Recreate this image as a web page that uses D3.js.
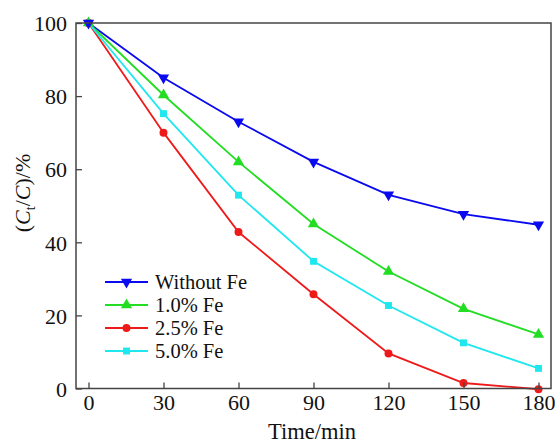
<!DOCTYPE html>
<html>
<head>
<meta charset="utf-8">
<script src="https://cdn.jsdelivr.net/npm/d3@7"></script>
<style>
  body { margin: 0; background: #fff; }
  svg, svg text { font-family: "Liberation Serif", "Times New Roman", "DejaVu Serif", serif !important; }
</style>
</head>
<body>
<div id="chart"></div>
<script>
let width = 555
let height = 445

// data
let times = [0, 30, 60, 90, 120, 150, 180]
let withoutFe = [100, 85, 73, 62, 53, 47.7, 44.8]
let fe10 = [100, 80.3, 62, 45, 32, 21.8, 14.8]
let fe25 = [100, 70, 42.8, 25.8, 9.6, 1.5, -0.2]
let fe50 = [100, 75.2, 52.9, 34.8, 22.7, 12.5, 5.5]
let xTicks = [0, 30, 60, 90, 120, 150, 180]
let yTicks = [0, 20, 40, 60, 80, 100]

let series = [
  {name: 'Without Fe', values: withoutFe, color: '#0a0aee', symbol: 'down'},
  {name: '1.0% Fe', values: fe10, color: '#22dd22', symbol: 'up'},
  {name: '2.5% Fe', values: fe25, color: '#ee1a1a', symbol: 'circle'},
  {name: '5.0% Fe', values: fe50, color: '#1ee8ee', symbol: 'square'}
]

let serif = '"Liberation Serif", "Times New Roman", serif'
let margin = {top: 23, right: 4, bottom: 56, left: 76}

let xScale = d3.scaleLinear()
  .domain([-5, 185])
  .range([margin.left, width - margin.right])

let yScale = d3.scaleLinear()
  .domain([0, 100])
  .range([388.5, margin.top])

let svg = d3.select('#chart').append('svg')
  .attr('width', width)
  .attr('height', height)
  .attr('font-family', serif)

let axisColor = '#444'

let markerPath = (type) => {
  if (type === 'circle') return d3.symbol().type(d3.symbolCircle).size(50)()
  if (type === 'square') return d3.symbol().type(d3.symbolSquare).size(48)()
  return d3.symbol().type(d3.symbolTriangle).size(55)()
}

let drawMarker = (g, type, x, y, color) => {
  g.append('path')
    .attr('d', markerPath(type))
    .attr('fill', color)
    .attr('transform', 'translate(' + x + ',' + y + ')' + (type === 'down' ? ' rotate(180)' : ''))
}

// lines and markers
let line = d3.line()
  .x((d, i) => xScale(times[i]))
  .y((d) => yScale(d))

let plot = svg.append('g')

series.forEach((s) => {
  plot.append('path')
    .datum(s.values)
    .attr('d', line)
    .attr('fill', 'none')
    .attr('stroke', s.color)
    .attr('stroke-width', 1.8)
})

series.slice().reverse().forEach((s) => {
  s.values.forEach((v, i) => {
    drawMarker(plot, s.symbol, xScale(times[i]), yScale(v), s.color)
  })
})

// frame
svg.append('rect')
  .attr('x', xScale(-5))
  .attr('y', margin.top)
  .attr('width', xScale(185) - xScale(-5))
  .attr('height', yScale(0) - margin.top)
  .attr('fill', 'none')
  .attr('stroke', axisColor)
  .attr('stroke-width', 1.5)

// y axis
let yAxis = svg.append('g')
  .attr('transform', 'translate(' + xScale(-5) + ',0)')
  .call(d3.axisRight(yScale).tickValues(yTicks).tickSize(6).tickFormat(d3.format('d')))
yAxis.attr('font-family', serif).attr('font-size', 22)
yAxis.select('.domain').remove()
yAxis.selectAll('line').attr('stroke', axisColor).attr('stroke-width', 1.3)
yAxis.selectAll('text')
  .attr('x', -9)
  .attr('dy', '0.35em')
  .attr('text-anchor', 'end')
  .attr('fill', '#111')

// x axis
let xAxis = svg.append('g')
  .attr('transform', 'translate(0,' + yScale(0) + ')')
  .call(d3.axisTop(xScale).tickValues(xTicks).tickSize(6).tickFormat(d3.format('d')))
xAxis.attr('font-family', serif).attr('font-size', 22)
xAxis.select('.domain').remove()
xAxis.selectAll('line').attr('stroke', axisColor).attr('stroke-width', 1.3)
xAxis.selectAll('text')
  .attr('y', 21)
  .attr('dy', 0)
  .attr('fill', '#111')

// axis titles
svg.append('text')
  .attr('x', 312)
  .attr('y', 439)
  .attr('text-anchor', 'middle')
  .attr('fill', '#111')
  .attr('font-size', 22.5)
  .text('Time/min')

let yTitle = svg.append('text')
  .attr('transform', 'translate(30,193) rotate(-90)')
  .attr('text-anchor', 'middle')
  .attr('fill', '#111')
  .attr('font-size', 22)
yTitle.append('tspan').text('(')
yTitle.append('tspan').attr('font-style', 'italic').text('C')
yTitle.append('tspan').attr('dy', 5).attr('font-size', 14).text('t')
yTitle.append('tspan').attr('dy', -5).text('/')
yTitle.append('tspan').attr('font-style', 'italic').text('C')
yTitle.append('tspan').text(')/%')

// legend
let legend = svg.append('g')
series.forEach((s, i) => {
  let y = 282 + i * 23
  legend.append('line')
    .attr('x1', 105).attr('x2', 148)
    .attr('y1', y).attr('y2', y)
    .attr('stroke', s.color)
    .attr('stroke-width', 1.8)
  drawMarker(legend, s.symbol, 126.5, y, s.color)
  legend.append('text')
    .attr('x', 155)
    .attr('y', y)
    .attr('dy', '0.35em')
    .attr('fill', '#111')
    .attr('font-size', 20.5)
    .text(s.name)
})
</script>
</body>
</html>
